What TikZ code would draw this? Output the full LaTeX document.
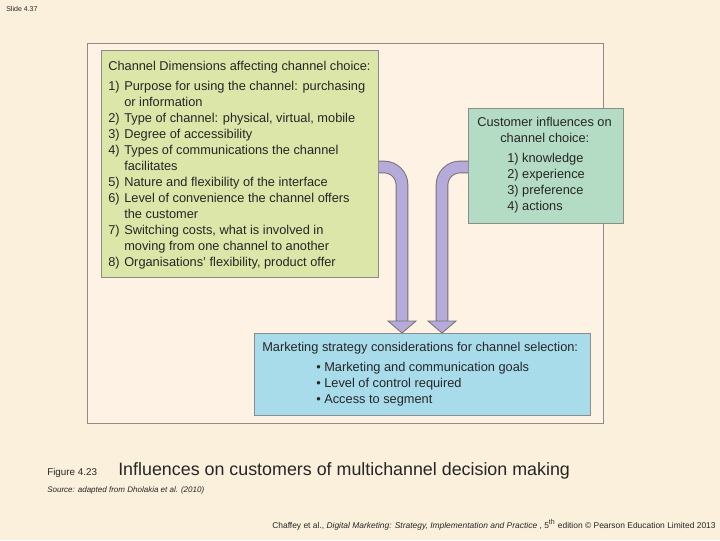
\documentclass[tikz,border=0pt]{standalone}
\usepackage{fontspec}
\setmainfont{Liberation Sans}
\begin{document}
\begin{tikzpicture}[x=0.025cm,y=-0.025cm,
  box/.style={draw=black!45,line width=0.6pt},
  t/.style={anchor=base west,inner sep=0pt,font=\fontsize{9.1}{10}\selectfont,text=black!85},
  shaft/.style={line width=9pt,draw=black!55,rounded corners=18*0.025cm},
  shaftin/.style={line width=7.6pt,draw={rgb,255:red,182;green,170;blue,218},rounded corners=18*0.025cm},
  head/.style={fill={rgb,255:red,182;green,170;blue,218},draw=black!55,line width=0.6pt}]
\fill[fill={rgb,255:red,251;green,240;blue,220}] (0,0) rectangle (720,540);
\useasboundingbox (0,0) rectangle (720,540);
\node[t,font=\fontsize{5}{6}\selectfont] (slide) at (6,11) {Slide 4.37};
\draw[box,fill={rgb,255:red,253;green,242;blue,228}] (87,43) rectangle (603,423);
% arrows
\coordinate (la) at (375,167); \coordinate (lb) at (402,322);
\coordinate (ra) at (471,167); \coordinate (rb) at (442,322);
\draw[shaft] (la) -- (402,167) -- (lb);
\draw[shaftin] (la) -- (402,167) -- (lb);
\draw[shaft] (ra) -- (442,167) -- (rb);
\draw[shaftin] (ra) -- (442,167) -- (rb);
\draw[head] (388,321) -- (416,321) -- (402,333) -- cycle;
\draw[head] (428,321) -- (456,321) -- (442,333) -- cycle;
% green box
\node[box,fill={rgb,255:red,220;green,230;blue,168},minimum width=277*0.025cm,minimum height=227*0.025cm,anchor=north west] (dim) at (101,50) {};
\node[t] (d0) at (108,70) {Channel Dimensions affecting channel choice:};
\foreach \n/\y/\s in {1/90/Purpose for using the channel: purchasing,2/122/{Type of channel: physical, virtual, mobile},3/138/Degree of accessibility,4/154/Types of communications the channel,5/186/Nature and flexibility of the interface,6/202/Level of convenience the channel offers,7/234/{Switching costs, what is involved in},8/266/{Organisations’ flexibility, product offer}}
  {\node[t] (dn\n) at (108,\y) {\n)}; \node[t] (ds\n) at (124,\y) {\s};}
\node[t] (dc1) at (124,106) {or information};
\node[t] (dc4) at (124,170) {facilitates};
\node[t] (dc6) at (124,218) {the customer};
\node[t] (dc7) at (124,250) {moving from one channel to another};
% customer box
\node[box,fill={rgb,255:red,180;green,220;blue,196},minimum width=155*0.025cm,minimum height=115*0.025cm,anchor=north west] (cust) at (468,108) {};
\node[t] (c0) at (477,126) {Customer influences on};
\node[t] (c1) at (500,142) {channel choice:};
\node[t] (c2) at (507,162) {1) knowledge};
\node[t] (c3) at (507,178) {2) experience};
\node[t] (c4) at (507,194) {3) preference};
\node[t] (c5) at (507,210) {4) actions};
% blue box
\node[box,fill={rgb,255:red,168;green,220;blue,235},minimum width=336*0.025cm,minimum height=82*0.025cm,anchor=north west] (mkt) at (254,333) {};
\node[t] (m0) at (262,351) {Marketing strategy considerations for channel selection:};
\node[t] (m1) at (316,371) {• Marketing and communication goals};
\node[t] (m2) at (316,387) {• Level of control required};
\node[t] (m3) at (316,403) {• Access to segment};
% captions
\node[t,font=\fontsize{7}{8}\selectfont] (fig) at (47,475) {Figure 4.23};
\node[t,font=\fontsize{12.7}{14}\selectfont] (cap) at (118,475) {Influences on customers of multichannel decision making};
\node[t,font=\itshape\fontsize{5.7}{6}\selectfont] (src) at (47,492) {Source: adapted from Dholakia et al. (2010)};
\node[t,font=\fontsize{6}{7}\selectfont] (foot) at (272,528) {Chaffey et al., \textit{Digital Marketing: Strategy, Implementation and Practice} , 5\textsuperscript{th} edition © Pearson Education Limited 2013};
\end{tikzpicture}
\end{document}
